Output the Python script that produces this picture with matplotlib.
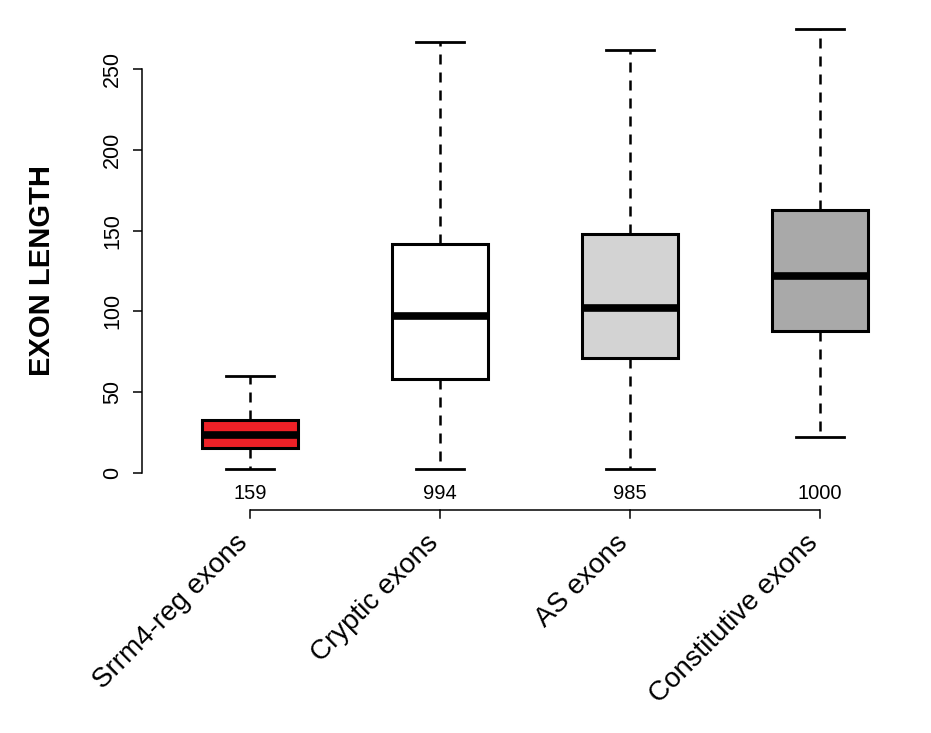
import matplotlib
matplotlib.use("Agg")
import matplotlib.pyplot as plt

categories = ["Srrm4-reg exons", "Cryptic exons", "AS exons", "Constitutive exons"]
counts = ["159", "994", "985", "1000"]
whisker_low = [2.5, 2, 2.5, 22]
q1 = [15, 58, 71, 88]
median = [23, 97, 102, 122]
q3 = [32.5, 142, 148, 163]
whisker_high = [60, 267, 262, 275]
colors = ["#EE2127", "#FFFFFF", "#D3D3D3", "#A9A9A9"]
yticks = [0, 50, 100, 150, 200, 250]

plt.rcParams['font.family'] = ['Liberation Sans', 'DejaVu Sans']

W, H = 931, 733
fig = plt.figure(figsize=(W / 100, H / 100), dpi=100)

# pixel layout
x_left_px, x_right_px = 142, 910
y_top_px, y_bot_px = 13, 529
ax = fig.add_axes([x_left_px / W, 1 - y_bot_px / H,
                   (x_right_px - x_left_px) / W, (y_bot_px - y_top_px) / H])

pos = [1, 2, 3, 4]
px_per_unit = 190.0
ax.set_xlim(1 - (250 - x_left_px) / px_per_unit, 4 + (x_right_px - 820) / px_per_unit)
ax.set_ylim(-35, 285)

stats = []
for i in range(len(categories)):
    stats.append(dict(whislo=whisker_low[i], q1=q1[i], med=median[i],
                      q3=q3[i], whishi=whisker_high[i], fliers=[]))

bp = ax.bxp(stats, positions=pos, widths=0.505, patch_artist=True,
            showfliers=False,
            boxprops=dict(linewidth=2.2, edgecolor="black"),
            medianprops=dict(linewidth=5.5, color="black", solid_capstyle="butt"),
            whiskerprops=dict(linewidth=1.8, color="black", linestyle=(0, (4, 3.2))),
            capprops=dict(linewidth=2.0, color="black"),
            capwidths=0.255)
for patch, c in zip(bp['boxes'], colors):
    patch.set_facecolor(c)

# y axis in R style
for s in ['top', 'right', 'bottom']:
    ax.spines[s].set_visible(False)
ax.spines['left'].set_bounds(0, 250)
ax.spines['left'].set_linewidth(1.1)
ax.set_yticks(yticks)
ax.set_yticklabels([str(t) for t in yticks], rotation=90, va='center', fontsize=15.5)
ax.tick_params(axis='y', length=6.5, width=1.1, pad=7)
ax.set_xticks([])
fig.text(42 / W, 1 - 271 / H, "EXON LENGTH", rotation=90, ha='center', va='center',
         fontsize=21, fontweight='bold')

# x axis line below counts
y_axis_v = -23.2
ax.plot([pos[0], pos[-1]], [y_axis_v, y_axis_v], color="black", lw=1.1,
        clip_on=False, solid_capstyle='butt')
for p in pos:
    ax.plot([p, p], [y_axis_v, y_axis_v - 5], color="black", lw=1.1, clip_on=False)

for p, n in zip(pos, counts):
    ax.text(p, -13, n, ha='center', va='center', fontsize=14.5)

for p, lab in zip(pos, categories):
    ax.text(p - 0.03, -41, lab, rotation=45, rotation_mode='anchor',
            ha='right', va='center', fontsize=20, clip_on=False)

fig.savefig("out.png", dpi=100)
